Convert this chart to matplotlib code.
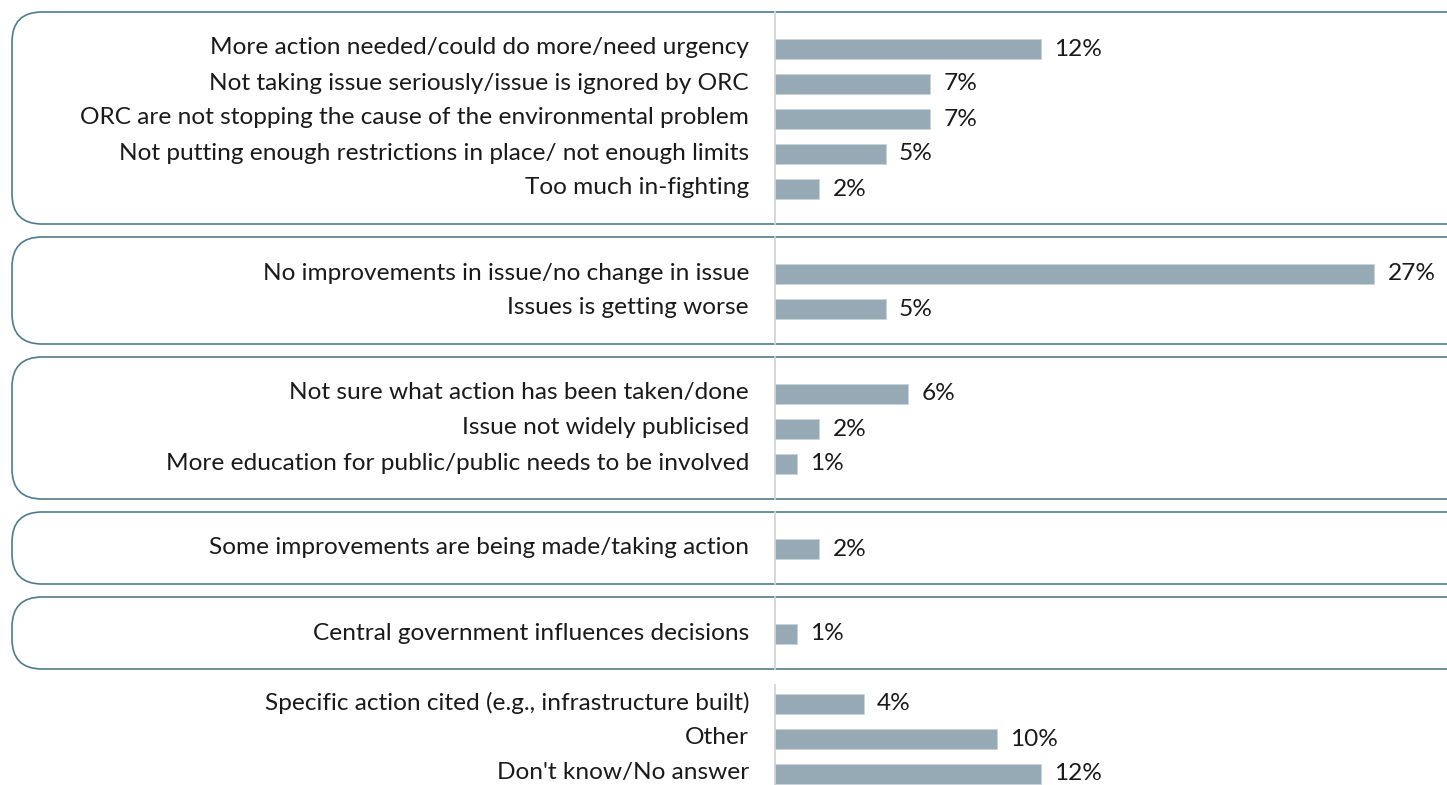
import matplotlib
matplotlib.use("Agg")
import matplotlib.pyplot as plt
from matplotlib.patches import FancyBboxPatch

# Survey responses, grouped by theme (top to bottom)
group1_labels = [
    "More action needed/could do more/need urgency",
    "Not taking issue seriously/issue is ignored by ORC",
    "ORC are not stopping the cause of the environmental problem",
    "Not putting enough restrictions in place/ not enough limits",
    "Too much in-fighting",
]
group1_values = [12, 7, 7, 5, 2]

group2_labels = [
    "No improvements in issue/no change in issue",
    "Issues is getting worse",
]
group2_values = [27, 5]

group3_labels = [
    "Not sure what action has been taken/done",
    "Issue not widely publicised",
    "More education for public/public needs to be involved",
]
group3_values = [6, 2, 1]

group4_labels = ["Some improvements are being made/taking action"]
group4_values = [2]

group5_labels = ["Central government influences decisions"]
group5_values = [1]

group6_labels = [
    "Specific action cited (e.g., infrastructure built)",
    "Other",
    "Don't know/No answer",
]
group6_values = [4, 10, 12]

groups = [
    (group1_labels, group1_values, True),
    (group2_labels, group2_values, True),
    (group3_labels, group3_values, True),
    (group4_labels, group4_values, True),
    (group5_labels, group5_values, True),
    (group6_labels, group6_values, False),
]

W, H = 1447, 785
BAR_COLOR = "#96aab5"
BOX_COLOR = "#4f7c8c"
AXIS_COLOR = "#d4d4d4"
TEXT_COLOR = "#1a1a1a"
FONT = ["Lato", "DejaVu Sans"]

fig = plt.figure(figsize=(W / 100, H / 100), dpi=100)

# background layer in pixel units for the rounded group frames
bg = fig.add_axes([0, 0, 1, 1])
bg.set_xlim(0, W)
bg.set_ylim(H, 0)
bg.axis("off")

# bar layer: x in percent, y in pixel rows
zero_px = 775
px_per_pct = 22.2
ax = fig.add_axes([0, 0, 1, 1], facecolor="none")
ax.set_xlim(-zero_px / px_per_pct, (W - zero_px) / px_per_pct)
ax.set_ylim(H, 0)
ax.axis("off")

row_step = 35
pad_top = 37
pad_bottom = 35
open_pad_top = 22
box_gap = 13
top = 12

for labels, values, boxed in groups:
    first = top + (pad_top if boxed else open_pad_top)
    ys = [first + row_step * i for i in range(len(labels))]
    bottom = ys[-1] + pad_bottom
    if boxed:
        bg.add_patch(FancyBboxPatch(
            (12, top), W + 60, bottom - top,
            boxstyle="round,pad=0,rounding_size=30",
            facecolor="white", edgecolor=BOX_COLOR, linewidth=1.2, zorder=1))
        ax.plot([0, 0], [top, bottom], color=AXIS_COLOR, lw=1.3, zorder=2)
    else:
        ax.plot([0, 0], [top + 3, H], color=AXIS_COLOR, lw=1.3, zorder=2)
    ax.barh(ys, values, height=20, color=BAR_COLOR, edgecolor="#c9d3d9",
            linewidth=0.6, zorder=3)
    for y, lab, v in zip(ys, labels, values):
        ax.text(-26 / px_per_pct, y - 1, lab, ha="right", va="center",
                fontsize=17.6, color=TEXT_COLOR, family=FONT)
        ax.text(v + 13 / px_per_pct, y, f"{v}%", ha="left", va="center",
                fontsize=17.6, color=TEXT_COLOR, family=FONT)
    top = bottom + box_gap

fig.savefig("out.png", dpi=100, facecolor="white")
